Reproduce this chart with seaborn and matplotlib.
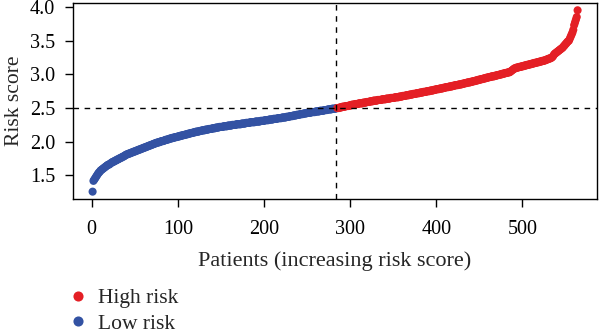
import numpy as np
import pandas as pd
import matplotlib
matplotlib.use("Agg")
import matplotlib.pyplot as plt
import seaborn as sns

# Risk scores of the low-risk group, sorted ascending (patients 1-284)
low_risk_scores = [
    1.26,
    1.42, 1.44, 1.46, 1.48, 1.50, 1.52, 1.54, 1.55, 1.57,
    1.58, 1.59, 1.60, 1.61, 1.62, 1.63, 1.64, 1.65, 1.66, 1.66,
    1.67, 1.68, 1.69, 1.70, 1.70, 1.71, 1.72, 1.72, 1.73, 1.74,
    1.74, 1.75, 1.76, 1.76, 1.77, 1.78, 1.78, 1.79, 1.80, 1.81,
    1.81, 1.82, 1.82, 1.83, 1.83, 1.84, 1.84, 1.85, 1.85, 1.86,
    1.86, 1.87, 1.87, 1.88, 1.88, 1.89, 1.89, 1.90, 1.90, 1.91,
    1.91, 1.92, 1.92, 1.93, 1.93, 1.94, 1.94, 1.95, 1.95, 1.96,
    1.96, 1.97, 1.97, 1.98, 1.98, 1.99, 1.99, 1.99, 2.00, 2.00,
    2.01, 2.01, 2.01, 2.02, 2.02, 2.03, 2.03, 2.03, 2.04, 2.04,
    2.05, 2.05, 2.05, 2.06, 2.06, 2.06, 2.07, 2.07, 2.07, 2.08,
    2.08, 2.08, 2.09, 2.09, 2.09, 2.10, 2.10, 2.10, 2.11, 2.11,
    2.11, 2.12, 2.12, 2.12, 2.13, 2.13, 2.13, 2.14, 2.14, 2.14,
    2.15, 2.15, 2.15, 2.15, 2.16, 2.16, 2.16, 2.17, 2.17, 2.17,
    2.17, 2.18, 2.18, 2.18, 2.18, 2.19, 2.19, 2.19, 2.19, 2.20,
    2.20, 2.20, 2.20, 2.21, 2.21, 2.21, 2.21, 2.22, 2.22, 2.22,
    2.22, 2.22, 2.23, 2.23, 2.23, 2.23, 2.23, 2.24, 2.24, 2.24,
    2.24, 2.24, 2.25, 2.25, 2.25, 2.25, 2.25, 2.26, 2.26, 2.26,
    2.26, 2.26, 2.26, 2.27, 2.27, 2.27, 2.27, 2.27, 2.28, 2.28,
    2.28, 2.28, 2.28, 2.29, 2.29, 2.29, 2.29, 2.29, 2.29, 2.30,
    2.30, 2.30, 2.30, 2.30, 2.30, 2.31, 2.31, 2.31, 2.31, 2.31,
    2.32, 2.32, 2.32, 2.32, 2.32, 2.33, 2.33, 2.33, 2.33, 2.33,
    2.34, 2.34, 2.34, 2.34, 2.34, 2.35, 2.35, 2.35, 2.35, 2.35,
    2.36, 2.36, 2.36, 2.36, 2.36, 2.37, 2.37, 2.37, 2.37, 2.38,
    2.38, 2.38, 2.38, 2.39, 2.39, 2.39, 2.39, 2.40, 2.40, 2.40,
    2.40, 2.41, 2.41, 2.41, 2.41, 2.42, 2.42, 2.42, 2.42, 2.43,
    2.43, 2.43, 2.43, 2.43, 2.44, 2.44, 2.44, 2.44, 2.44, 2.45,
    2.45, 2.45, 2.45, 2.45, 2.46, 2.46, 2.46, 2.46, 2.46, 2.47,
    2.47, 2.47, 2.47, 2.48, 2.48, 2.48, 2.48, 2.48, 2.49, 2.49,
    2.49, 2.49, 2.49, 2.50,
]

# Risk scores of the high-risk group, sorted ascending (patients 285-564)
high_risk_scores = [
    2.50, 2.50, 2.50, 2.51, 2.51, 2.51, 2.52, 2.52, 2.52, 2.52,
    2.53, 2.53, 2.53, 2.53, 2.54, 2.54, 2.54, 2.55, 2.55, 2.55,
    2.55, 2.56, 2.56, 2.56, 2.56, 2.57, 2.57, 2.57, 2.57, 2.57,
    2.58, 2.58, 2.58, 2.58, 2.59, 2.59, 2.59, 2.59, 2.60, 2.60,
    2.60, 2.60, 2.61, 2.61, 2.61, 2.61, 2.61, 2.62, 2.62, 2.62,
    2.62, 2.62, 2.63, 2.63, 2.63, 2.63, 2.63, 2.64, 2.64, 2.64,
    2.64, 2.64, 2.65, 2.65, 2.65, 2.65, 2.65, 2.66, 2.66, 2.66,
    2.66, 2.66, 2.67, 2.67, 2.67, 2.67, 2.68, 2.68, 2.68, 2.68,
    2.69, 2.69, 2.69, 2.69, 2.70, 2.70, 2.70, 2.70, 2.71, 2.71,
    2.71, 2.71, 2.72, 2.72, 2.72, 2.72, 2.73, 2.73, 2.73, 2.73,
    2.74, 2.74, 2.74, 2.74, 2.75, 2.75, 2.75, 2.75, 2.76, 2.76,
    2.76, 2.76, 2.77, 2.77, 2.77, 2.78, 2.78, 2.78, 2.78, 2.79,
    2.79, 2.79, 2.79, 2.80, 2.80, 2.80, 2.81, 2.81, 2.81, 2.81,
    2.82, 2.82, 2.82, 2.82, 2.83, 2.83, 2.83, 2.84, 2.84, 2.84,
    2.84, 2.85, 2.85, 2.85, 2.85, 2.86, 2.86, 2.86, 2.87, 2.87,
    2.87, 2.88, 2.88, 2.88, 2.88, 2.89, 2.89, 2.89, 2.90, 2.90,
    2.90, 2.91, 2.91, 2.91, 2.92, 2.92, 2.92, 2.93, 2.93, 2.93,
    2.94, 2.94, 2.94, 2.95, 2.95, 2.95, 2.96, 2.96, 2.96, 2.97,
    2.97, 2.97, 2.97, 2.98, 2.98, 2.98, 2.99, 2.99, 2.99, 3.00,
    3.00, 3.00, 3.01, 3.01, 3.01, 3.02, 3.02, 3.02, 3.03, 3.03,
    3.03, 3.04, 3.05, 3.06, 3.07, 3.08, 3.09, 3.09, 3.10, 3.10,
    3.10, 3.11, 3.11, 3.11, 3.12, 3.12, 3.12, 3.13, 3.13, 3.13,
    3.14, 3.14, 3.14, 3.15, 3.15, 3.15, 3.16, 3.16, 3.16, 3.17,
    3.17, 3.17, 3.18, 3.18, 3.18, 3.19, 3.19, 3.19, 3.20, 3.20,
    3.20, 3.21, 3.21, 3.22, 3.22, 3.23, 3.23, 3.24, 3.24, 3.25,
    3.26, 3.28, 3.30, 3.31, 3.32, 3.33, 3.34, 3.35, 3.36, 3.37,
    3.38, 3.39, 3.40, 3.42, 3.43, 3.45, 3.46, 3.48, 3.49, 3.50,
    3.53, 3.56, 3.59, 3.62, 3.66, 3.73, 3.77, 3.81, 3.85, 3.95,
]

group_labels = ["High risk", "Low risk"]
group_colors = {"High risk": "#E41F25", "Low risk": "#3352A3"}
x_ticks = [0, 100, 200, 300, 400, 500]
y_ticks = [1.5, 2.0, 2.5, 3.0, 3.5, 4.0]
score_cutoff = 2.5

scores = low_risk_scores + high_risk_scores
groups = ["Low risk"] * len(low_risk_scores) + ["High risk"] * len(high_risk_scores)
df = pd.DataFrame({
    "patient": np.arange(1, len(scores) + 1),
    "score": scores,
    "group": groups,
})

sns.set_theme(style="ticks")
plt.rcParams["font.family"] = ["Liberation Serif", "DejaVu Serif"]

fig = plt.figure(figsize=(6.0, 3.36), dpi=100)
ax = fig.add_axes([0.122, 0.408, 0.873, 0.583])

sns.scatterplot(
    data=df, x="patient", y="score", hue="group",
    hue_order=group_labels, palette=group_colors,
    s=34, linewidth=0, ax=ax, legend=True,
)

ax.axvline(len(low_risk_scores), color="black", linestyle=(0, (4, 4)), linewidth=1)
ax.axhline(score_cutoff, color="black", linestyle=(0, (4, 4)), linewidth=1)

# R-style 4% padding around the data range
n = len(scores)
span_x = n - 1
ax.set_xlim(1 - 0.04 * span_x, n + 0.04 * span_x)
lo, hi = min(scores), max(scores)
ax.set_ylim(lo - 0.04 * (hi - lo), hi + 0.04 * (hi - lo))
ax.set_xticks(x_ticks)
ax.set_yticks(y_ticks)
ax.set_yticklabels([f"{v:.1f}" for v in y_ticks])

for side in ["top", "right", "left", "bottom"]:
    ax.spines[side].set_visible(True)
    ax.spines[side].set_color("black")
    ax.spines[side].set_linewidth(1.0)

ax.tick_params(axis="both", labelsize=14.5, length=6, width=1, color="black",
               labelcolor="black")
ax.tick_params(axis="x", pad=9)
ax.tick_params(axis="y", pad=7)
ax.set_xlabel("Patients (increasing risk score)", fontsize=16, labelpad=9)
ax.set_ylabel("Risk score", fontsize=15.5, labelpad=4)

sns.move_legend(
    ax, "upper left", bbox_to_anchor=(0.098, 0.168), bbox_transform=fig.transFigure,
    title=None, frameon=False, fontsize=15.5, handlelength=1.0, handletextpad=0.4,
    labelspacing=0.25, markerscale=1.25, borderaxespad=0,
)

fig.savefig("out.png", dpi=100)
